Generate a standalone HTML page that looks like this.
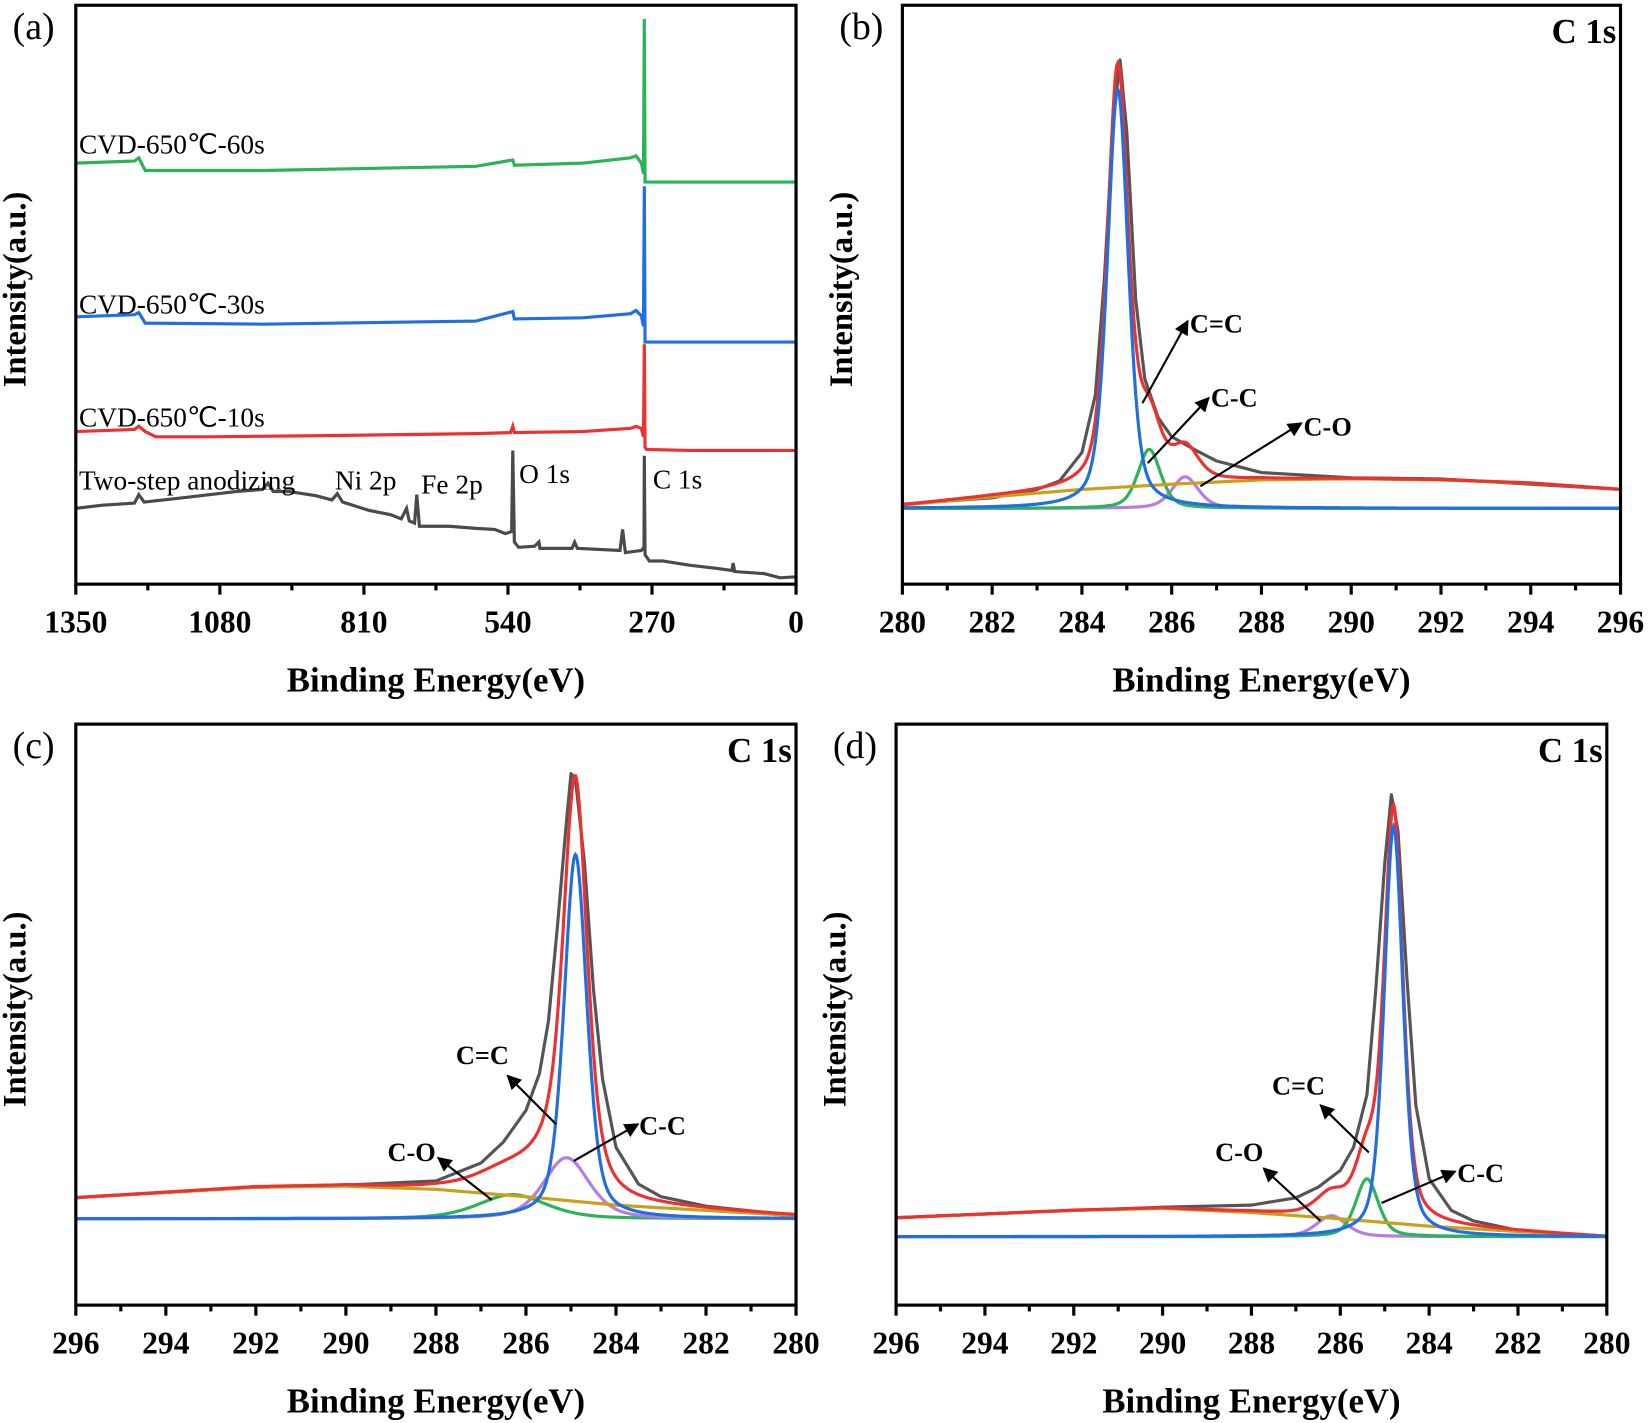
<!DOCTYPE html>
<html><head><meta charset="utf-8"><style>
html,body{margin:0;padding:0;background:#fff}
svg{display:block}
text{font-family:"Liberation Serif",serif}
.tk{font-weight:bold;font-size:30px}
.tt{font-weight:bold;font-size:33px}
.yt{font-weight:bold;font-size:31px}
.pl{font-size:36px}
.lb{font-size:26px}
.an{font-weight:bold;font-size:25px}
</style></head><body>
<svg id="fig" width="1650" height="1423" viewBox="0 0 1567 1352" preserveAspectRatio="none" xmlns="http://www.w3.org/2000/svg">
<defs><marker id="ah" viewBox="0 0 10 10" refX="9" refY="5" markerWidth="7" markerHeight="7" orient="auto"><path d="M0,0 L10,5 L0,10 z" fill="#000"/></marker></defs>
</svg>
<script>
// ---- Panel (a) survey data: [binding energy, intensity] ----
const surveyGray=[[1350,72],[1300,75],[1240,77],[1232,85],[1222,78],[1150,82],[1100,85],[1050,88],[1000,90],[990,96],[980,88],[950,88],[900,84],[870,80],[860,86],[850,78],[800,70],[760,66],[740,62],[730,72],[725,60],[715,58],[711,85],[706,55],[650,55],[600,53],[565,52],[545,48],[533,50],[531,127],[528,40],[520,35],[490,36],[482,40],[480,34],[420,34],[415,40],[410,34],[330,32],[325,52],[320,30],[290,32],[285,35],[284.5,122],[283,28],[275,22],[250,22],[200,18],[150,15],[120,13],[118,20],[115,12],[60,10],[30,6],[0,7]];
const surveyRed=[[1350,145],[1240,147],[1232,150],[1220,145],[1200,140],[1100,140],[900,141],[600,143],[535,144],[531,150],[528,144],[400,145],[310,148],[300,150],[290,148],[286,140],[284.5,228],[283,130],[280,128],[200,127],[0,127]];
const surveyBlue=[[1350,254],[1240,256],[1232,258],[1220,248],[1000,247],[600,250],[531,259],[528,252],[400,253],[310,257],[300,260],[290,255],[286,245],[284.5,378],[283,230],[0,230]];
const surveyGreen=[[1350,400],[1240,402],[1232,405],[1220,393],[1000,393],[600,397],[531,403],[528,398],[400,400],[310,405],[300,407],[290,400],[286,390],[284.5,537],[283,382],[0,382]];
const surveyTicks=[1350,1080,810,540,270,0];
// ---- Panel (b) ----
const bBase=72;
const bPeaks=[[284.8,398,0.55],[285.5,56,0.6],[286.3,30,0.7]]; // C=C, C-C, C-O : center,height,fwhm
const bBg=[[280,75],[282,83],[284,90],[286,95],[288,99],[290,100],[292,99],[294,96],[296,90]];
const bRaw=[[280,76],[282,82],[283,90],[283.5,98],[284,125],[284.3,180],[284.5,290],[284.7,440],[284.85,498],[285,430],[285.2,270],[285.4,195],[285.7,158],[286,140],[286.5,128],[287,117],[288,106],[290,101],[292,100],[294,95],[296,90]];
const bTicks=[280,282,284,286,288,290,292,294,296];
// ---- Panel (c) ----
const cBase=82;
const cPeaks=[[284.9,346,0.6],[285.1,58,1.2],[286.3,23,1.8]];
const cBg=[[296,102],[292,112],[290,113],[288,110],[286,103],[284,95],[282,90],[280,85]];
const cRaw=[[296,102],[292,112],[290,114],[288,118],[287,135],[286.5,155],[286,185],[285.7,220],[285.5,270],[285.3,360],[285.1,460],[285,505],[284.9,500],[284.7,420],[284.5,300],[284.3,215],[284,150],[283.5,115],[283,103],[282,94],[280,85]];
const cTicks=[296,294,292,290,288,286,284,282,280];
// ---- Panel (d) ----
const dBase=65;
const dPeaks=[[284.8,390,0.5],[285.4,55,0.6],[286.2,20,0.8]];
const dBg=[[296,83],[292,90],[290,92],[288,88],[286,82],[284,75],[282,70],[280,65]];
const dRaw=[[296,83],[292,90],[290,93],[288,95],[287,102],[286.5,112],[286,128],[285.7,150],[285.4,200],[285.2,300],[285,420],[284.85,485],[284.7,450],[284.5,310],[284.3,190],[284,120],[283.5,90],[283,80],[282,71],[280,65]];
const dTicks=[296,294,292,290,288,286,284,282,280];

const NS="http://www.w3.org/2000/svg";
const svg=document.getElementById('fig');
function mk(tag,attrs,parent){const e=document.createElementNS(NS,tag);for(const k in attrs)e.setAttribute(k,attrs[k]);(parent||svg).appendChild(e);return e;}
function txt(s,x,y,cls,parent,anchor){const t=mk('text',{x:x,y:y,class:cls,'text-anchor':anchor||'start'},parent);t.textContent=s;return t;}
function pv(x,c,h,w){const g=Math.exp(-4*Math.LN2*((x-c)/w)**2);const l=1/(1+4*((x-c)/w)**2);return h*(0.55*g+0.45*l);}
function interp(arr,x){const a=arr.slice().sort((p,q)=>p[0]-q[0]);if(x<=a[0][0])return a[0][1];for(let i=1;i<a.length;i++){if(x<=a[i][0]){const t=(x-a[i-1][0])/(a[i][0]-a[i-1][0]);return a[i-1][1]+t*(a[i][1]-a[i-1][1]);}}return a[a.length-1][1];}

function panel(o){
  const g=mk('g',{});
  
  
  const X=v=>o.L+(v-o.x0)/(o.x1-o.x0)*(o.R-o.L);
  const Y=v=>o.B-v;
  const pts=(arr)=>arr.map(p=>X(p[0]).toFixed(1)+','+Y(p[1]).toFixed(1)).join(' ');
  o.draw(g,X,Y,pts);
  const fr=mk('rect',{x:o.L,y:o.T,width:o.R-o.L,height:o.B-o.T,fill:'none',stroke:'#000','stroke-width':3},g);
  
  
  const step=(o.ticks[1]-o.ticks[0])/2;
  for(let i=0;i<o.ticks.length;i++){
    const v=o.ticks[i];
    mk('line',{x1:X(v),x2:X(v),y1:o.B,y2:o.B+10,stroke:'#000','stroke-width':3},g);
    if(i<o.ticks.length-1)mk('line',{x1:X(v+step),x2:X(v+step),y1:o.B,y2:o.B+6,stroke:'#000','stroke-width':3},g);
    const t=txt(String(v),X(v),o.B+46,'tk',g,'middle');
    
    
  }
  const xt=txt('Binding Energy(eV)',(o.L+o.R)/2,o.B+102,'tt',g,'middle');
  
  
  const yc=(o.T+o.B)/2-5;
  const yt=txt('Intensity(a.u.)',0,0,'yt',g,'middle');
  yt.setAttribute('transform','translate('+(o.L-48)+','+yc+') rotate(-90)');
  
  
  const pl=txt(o.label,o.L-60,o.T+32,'pl',g);
  
  
  return g;
}

function fitPanel(o,base,peaks,bg,raw,colors){
  o.draw=function(g,X,Y,pts){
    const xs=[];for(let v=Math.min(o.x0,o.x1);v<=Math.max(o.x0,o.x1)+1e-9;v+=0.02)xs.push(v);
    const rawL=mk('polyline',{points:pts(raw),fill:'none',stroke:'#555','stroke-width':3,'stroke-linejoin':'round'},g);
    
    
    const env=xs.map(x=>[x,interp(bg,x)+peaks.reduce((s,p)=>s+pv(x,p[0],p[1],p[2]),0)]);
    const names=['cc-double-component','cc-single-component','co-component'];
    for(let k=peaks.length-1;k>=1;k--){
      const p=peaks[k];
      const l=mk('polyline',{points:pts(xs.map(x=>[x,base+pv(x,p[0],p[1],p[2])])),fill:'none',stroke:colors[k],'stroke-width':3},g);
      
      
    }
    const b=mk('polyline',{points:pts(xs.map(x=>[x,interp(bg,x)])),fill:'none',stroke:'#c9a01c','stroke-width':3},g);
    
    
    const e=mk('polyline',{points:pts(env),fill:'none',stroke:'#ee3030','stroke-width':3},g);
    
    
    const p=peaks[0];
    const bl=mk('polyline',{points:pts(xs.map(x=>[x,base+pv(x,p[0],p[1],p[2])])),fill:'none',stroke:colors[0],'stroke-width':3},g);
    
    
    o.annot(g);
    const c1=txt('C 1s',o.R-4,o.T+36,'tt',g,'end');
    
    
  };
  return panel(o);
}
function arrow(g,x1,y1,x2,y2,label,tx,ty){
  const l=mk('line',{x1:x1,y1:y1,x2:x2,y2:y2,stroke:'#000','stroke-width':2,'marker-end':'url(#ah)'},g);
  
  
  const t=txt(label,tx,ty,'an',g);
  
  
}

// Panel a
panel({name:'panel-a-survey',label:'(a)',L:72,R:756,T:5,B:555,x0:1350,x1:0,ticks:surveyTicks,draw:function(g,X,Y,pts){
  const sets=[[surveyGray,'#4a4a4a','survey-two-step'],[surveyRed,'#ee3030','survey-10s'],[surveyBlue,'#1f6fe0','survey-30s'],[surveyGreen,'#2bb35a','survey-60s']];
  sets.forEach(s=>{const l=mk('polyline',{points:pts(s[0]),fill:'none',stroke:s[1],'stroke-width':3},g);
    
    });
  const labs=[['CVD-650℃-60s',75,146],['CVD-650℃-30s',75,298],['CVD-650℃-10s',75,405],['Two-step anodizing',75,465],['Ni 2p',318,465],['Fe 2p',400,469],['O 1s',493,459],['C 1s',620,464]];
  labs.forEach(a=>{const t=txt(a[0],a[1],a[2],'lb',g);
    
    });
}});
// Panel b
fitPanel({name:'panel-b-c1s',label:'(b)',L:857,R:1539,T:5,B:555,x0:280,x1:296,ticks:bTicks,annot:function(g){
  arrow(g,1085,383,1128,305,'C=C',1130,316);
  arrow(g,1090,440,1148,378,'C-C',1150,386);
  arrow(g,1140,462,1236,402,'C-O',1238,414);
}},bBase,bPeaks,bBg,bRaw,['#1f6fe0','#2bb35a','#b57be8']);
// Panel c
fitPanel({name:'panel-c-c1s',label:'(c)',L:72,R:756,T:688,B:1240,x0:296,x1:280,ticks:cTicks,annot:function(g){
  arrow(g,528,1068,482,1022,'C=C',433,1011);
  arrow(g,545,1103,606,1068,'C-C',607,1078);
  arrow(g,467,1140,416,1100,'C-O',368,1103);
}},cBase,cPeaks,cBg,cRaw,['#1f6fe0','#b57be8','#2bb35a']);
// Panel d
fitPanel({name:'panel-d-c1s',label:'(d)',L:851,R:1526,T:688,B:1240,x0:296,x1:280,ticks:dTicks,annot:function(g){
  arrow(g,1300,1095,1254,1050,'C=C',1208,1040);
  arrow(g,1312,1143,1382,1113,'C-C',1384,1123);
  arrow(g,1254,1160,1200,1110,'C-O',1154,1103);
}},dBase,dPeaks,dBg,dRaw,['#1f6fe0','#2bb35a','#b57be8']);
</script>
</body></html>
